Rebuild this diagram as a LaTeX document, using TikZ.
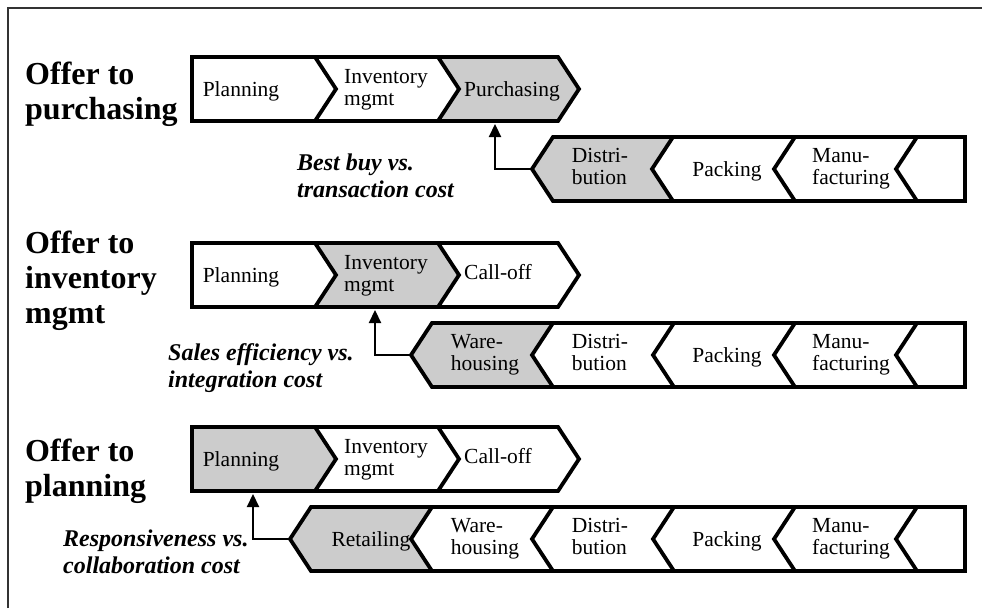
\documentclass[tikz,border=0pt]{standalone}
\usepackage{fontspec}
\setmainfont{Liberation Serif}
\usetikzlibrary{arrows.meta}
\definecolor{stagegray}{gray}{0.8}
\begin{document}
\begin{tikzpicture}[x=1pt, y=-1pt,
  stageline/.style={line width=3.8pt, line join=miter, miter limit=10},
  shaded/.style={fill=stagegray},
  stage/.style={font=\fontsize{21.5}{22.5}\selectfont, align=left, inner sep=0pt},
  offer/.style={font=\fontsize{32}{35}\selectfont\bfseries, align=left, inner sep=0pt, anchor=west},
  tradeoff/.style={font=\fontsize{24}{26.5}\selectfont\bfseries\itshape, align=left, inner sep=0pt, anchor=west},
  feed/.style={line width=2.2pt, -{Triangle[width=12pt,length=13pt]}},
  frame/.style={line width=1.6pt, black!80},
]
\useasboundingbox (0,0) rectangle (982,608);
\draw[frame] (8,608) -- (8,8) -- (982,8);

% ---------------- Offer to purchasing ----------------
% upstream chain (pointing right)
\fill[shaded] (438,57) -- (558,57) -- (579,89) -- (558,121) -- (438,121) -- (459,89) -- cycle;
\draw[stageline] (192,57) -- (558,57) -- (579,89) -- (558,121) -- (192,121) -- cycle;
\draw[stageline] (315,57) -- (336,89) -- (315,121);
\draw[stageline] (438,57) -- (459,89) -- (438,121);
% downstream chain (pointing left)
\fill[shaded] (532,169) -- (553,137) -- (673,137) -- (652,169) -- (673,201) -- (553,201) -- cycle;
\draw[stageline] (532,169) -- (553,137) -- (965,137) -- (965,201) -- (553,201) -- cycle;
\foreach \t in {673,795,917} \draw[stageline] (\t,137) -- (\t-21,169) -- (\t,201);

\node[offer] (o1) at (25,94) {Offer to\\purchasing};
\node[stage] (a1) at (241,91) {Planning};
\node[stage] (a2) at (386,90) {Inventory\\mgmt};
\node[stage] (a3) at (512,91) {Purchasing};
\node[stage] (b1) at (600,166.5) {Distri-\\bution};
\node[stage] (b2) at (727,171) {Packing};
\node[stage] (b3) at (851,169) {Manu-\\facturing};
\coordinate (s1) at (532,169);
\coordinate (d1) at (495,124);
\draw[feed] (s1) -| (d1);
\node[tradeoff] (t1) at (297,176) {Best buy vs.\\transaction cost};

% ---------------- Offer to inventory mgmt ----------------
\fill[shaded] (315,243) -- (438,243) -- (459,275) -- (438,307) -- (315,307) -- (336,275) -- cycle;
\draw[stageline] (192,243) -- (558,243) -- (579,275) -- (558,307) -- (192,307) -- cycle;
\draw[stageline] (315,243) -- (336,275) -- (315,307);
\draw[stageline] (438,243) -- (459,275) -- (438,307);
\fill[shaded] (411,355) -- (432,323) -- (553,323) -- (532,355) -- (553,387) -- (432,387) -- cycle;
\draw[stageline] (411,355) -- (432,323) -- (965,323) -- (965,387) -- (432,387) -- cycle;
\foreach \t in {553,674,795,917} \draw[stageline] (\t,323) -- (\t-21,355) -- (\t,387);

\node[offer] (o2) at (25,281) {Offer to\\inventory\\mgmt};
\node[stage] (c1) at (241,277) {Planning};
\node[stage] (c2) at (386,276) {Inventory\\mgmt};
\node[stage] (c3) at (498,272.5) {Call-off};
\node[stage] (e1) at (485,355) {Ware-\\housing};
\node[stage] (e2) at (600,352.5) {Distri-\\bution};
\node[stage] (e3) at (727,357) {Packing};
\node[stage] (e4) at (851,355) {Manu-\\facturing};
\coordinate (s2) at (411,355);
\coordinate (d2) at (375,310);
\draw[feed] (s2) -| (d2);
\node[tradeoff] (t2) at (168,368) {Sales efficiency vs.\\integration cost};

% ---------------- Offer to planning ----------------
\fill[shaded] (192,427) -- (315,427) -- (336,459) -- (315,491) -- (192,491) -- cycle;
\draw[stageline] (192,427) -- (558,427) -- (579,459) -- (558,491) -- (192,491) -- cycle;
\draw[stageline] (315,427) -- (336,459) -- (315,491);
\draw[stageline] (438,427) -- (459,459) -- (438,491);
\fill[shaded] (290,539) -- (311,507) -- (432,507) -- (411,539) -- (432,571) -- (311,571) -- cycle;
\draw[stageline] (290,539) -- (311,507) -- (965,507) -- (965,571) -- (311,571) -- cycle;
\foreach \t in {432,553,674,795,917} \draw[stageline] (\t,507) -- (\t-21,539) -- (\t,571);

\node[offer] (o3) at (25,471) {Offer to\\planning};
\node[stage] (f1) at (241,461) {Planning};
\node[stage] (f2) at (386,460) {Inventory\\mgmt};
\node[stage] (f3) at (498,456.5) {Call-off};
\node[stage] (g1) at (371,541) {Retailing};
\node[stage] (g2) at (485,539) {Ware-\\housing};
\node[stage] (g3) at (600,536.5) {Distri-\\bution};
\node[stage] (g4) at (727,541) {Packing};
\node[stage] (g5) at (851,539) {Manu-\\facturing};
\coordinate (s3) at (290,539);
\coordinate (d3) at (253,494);
\draw[feed] (s3) -| (d3);
\node[tradeoff] (t3) at (63,552) {Responsiveness vs.\\collaboration cost};
\end{tikzpicture}
\end{document}
